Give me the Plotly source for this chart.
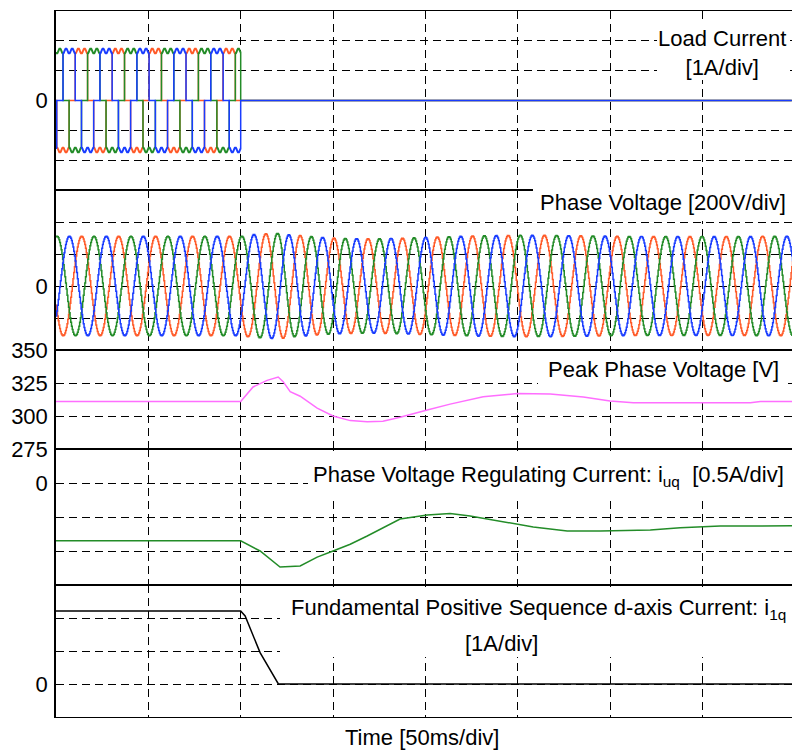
import numpy as np
import plotly.graph_objects as go

# ---------------- measured data (time in ms) ----------------
# Peak phase voltage [V]
peak_t = [0, 100, 106.7, 114.3, 120.3, 123, 126.8, 132.2, 141.4, 150, 159.3, 168.5,
          177, 186.3, 201, 213.4, 231.3, 249.7, 267.6, 285.5, 300, 312.6, 349, 376,
          381.4, 398.5]
peak_v = [311, 311, 322, 327, 329.5, 326, 318.5, 315, 306, 300, 296.5, 295.7,
          296, 299, 304.5, 309, 314.6, 317, 316.7, 314.4, 311.4, 310, 310, 310,
          311, 311]

# Phase voltage regulating current i_uq [A]
iuq_t = [0, 100, 110.5, 121.3, 132.2, 141.4, 150, 159.3, 168.5, 177, 186.3, 201,
         213.4, 224.2, 240.5, 258.4, 276.8, 294.7, 321.8, 338, 359.7, 398.5]
iuq_a = [-0.85, -0.85, -1.0, -1.235, -1.22, -1.09, -1.0, -0.9, -0.78, -0.66, -0.53,
         -0.47, -0.45, -0.485, -0.56, -0.647, -0.706, -0.706, -0.69, -0.657, -0.632,
         -0.63]

# Fundamental positive sequence d-axis current i_1q [A]
i1q_t = [0, 100, 102.4, 110.5, 120.4, 398.5]
i1q_a = [2.21, 2.21, 2.06, 0.95, 0.0, 0.0]

# Load current: six-pulse rectifier line current, cut off at 100 ms
load_amp = 1.66          # A
load_ripple = 0.05       # relative 300 Hz ripple
load_off_ms = 100
green_peak_ms = 0.4      # first positive peak of the green phase

# Supply frequency profile for the phase voltages
freq_t = [0, 100, 130, 200, 260, 398.5]
freq_hz = [50, 50, 55, 53, 50.8, 50.8]

T_END = 398.5

# ---------------- waveforms ----------------
# phase voltages, sampled (zero-order hold)
tv = np.arange(0, T_END + 0.4, 0.4)
fv = np.interp(tv, freq_t, freq_hz)
cyc = np.concatenate([[0.0], np.cumsum(0.5 * (fv[1:] + fv[:-1]) * np.diff(tv) / 1000.0)])
cyc -= np.interp(green_peak_ms, tv, cyc)
theta_v = 2 * np.pi * cyc
env = np.interp(tv, peak_t, peak_v)
v_green = env * np.cos(theta_v)
v_blue = env * np.cos(theta_v - 2 * np.pi / 3)
v_orange = env * np.cos(theta_v - 4 * np.pi / 3)

# load currents, 120-degree blocks
tc = np.arange(0, T_END, 0.1)
theta_c = 2 * np.pi * 50 * (tc - green_peak_ms) / 1000.0
idc = load_amp * (1 - load_ripple * np.cos(6 * theta_c))


def block(shift):
    ang = np.degrees(np.angle(np.exp(1j * (theta_c - shift))))
    s = np.where(np.abs(ang) < 60, 1.0, np.where(np.abs(ang) > 120, -1.0, 0.0))
    return np.where(tc < load_off_ms, idc * s, 0.0)


i_green = block(0)
i_blue = block(2 * np.pi / 3)
i_orange = block(4 * np.pi / 3)

# ---------------- styling ----------------
BLUE = "rgb(25,60,255)"
ORANGE = "rgb(255,90,40)"
GREEN = "rgb(35,140,40)"
PINK = "rgb(255,110,255)"
FONT = "Liberation Sans, Arial, sans-serif"
FS = 22
W, H = 792, 751

# panel pixel extents (top, bottom)
panels = [(11, 190), (190, 350), (350, 449), (449, 585), (585, 717)]
x_left = 56

fig = go.Figure()


def add(x, y, color, row, shape="linear", width=1.5):
    fig.add_trace(go.Scatter(
        x=x, y=y, mode="lines", line=dict(color=color, width=width, shape=shape),
        xaxis=f"x{row}" if row > 1 else "x", yaxis=f"y{row}" if row > 1 else "y",
        hoverinfo="skip", showlegend=False))


add(tc, i_orange, ORANGE, 1, "hv")
add(tc, i_green, GREEN, 1, "hv")
add(tc, i_blue, BLUE, 1, "hv")
add(tv, v_orange, ORANGE, 2, "hv")
add(tv, v_green, GREEN, 2, "hv")
add(tv, v_blue, BLUE, 2, "hv")
add(peak_t, peak_v, PINK, 3)
add(iuq_t, iuq_a, GREEN, 4)
add(i1q_t, i1q_a, "black", 5)

# labelled ticks and unlabelled grid divisions for each panel
y_specs = [
    dict(range=[-3, 3], labels=[0], grid=[-2, -1, 1, 2]),
    dict(range=[-400, 600], labels=[0], grid=[-200, 200, 400]),
    dict(range=[275, 350], labels=[275, 300, 325, 350], grid=[]),
    dict(range=[-1.5, 0.5], labels=[0], grid=[-1, -0.5]),
    dict(range=[-1, 3], labels=[0], grid=[1, 2]),
]

layout = dict(
    template="none",
    width=W, height=H, margin=dict(l=0, r=0, t=0, b=0, pad=0, autoexpand=False),
    paper_bgcolor="white", plot_bgcolor="white",
    font=dict(family=FONT, size=FS, color="black"),
    showlegend=False,
)

GRID_DASH = "8px,5px"
GRID_W = 1.4
grid = dict(showgrid=True, gridcolor="black", gridwidth=GRID_W, griddash=GRID_DASH)
for i, ((top, bot), ys) in enumerate(zip(panels, y_specs), start=1):
    sx = "" if i == 1 else str(i)
    layout[f"xaxis{sx}"] = dict(
        domain=[x_left / W, 1], range=[0, T_END], anchor=f"y{sx}",
        tick0=0, dtick=50, showticklabels=False, ticks="", automargin=False,
        showline=True, mirror=True, linecolor="black", linewidth=1,
        zeroline=False, **grid)
    layout[f"yaxis{sx}"] = dict(
        domain=[1 - bot / H, 1 - top / H], anchor=f"x{sx}",
        range=ys["range"], tickmode="array", tickvals=ys["labels"],
        ticktext=[str(v) for v in ys["labels"]],
        ticks="", ticklabelstandoff=2, automargin=False,
        tickfont=dict(size=FS, family=FONT, color="black"),
        minor=dict(tickmode="array", tickvals=ys["grid"], ticks="", showgrid=True,
                   gridcolor="black", gridwidth=GRID_W, griddash=GRID_DASH),
        showline=True, mirror=False, linecolor="black", linewidth=1.5,
        zeroline=False, **grid)

fig.update_layout(**layout)

# white label backgrounds (x0, x1, y0, y1 in pixels)
boxes = [(657, 790, 22, 80), (533, 792, 187, 221), (538, 788, 352, 389),
         (308, 792, 451, 497), (280, 792, 587, 657)]
for x0, x1, y0, y1 in boxes:
    fig.add_shape(type="rect", xref="paper", yref="paper",
                  x0=x0 / W, x1=x1 / W, y0=1 - y1 / H, y1=1 - y0 / H,
                  fillcolor="white", line=dict(width=0), layer="above")


def label(text, px, py, xanchor="left", align="left"):
    fig.add_annotation(text=text, xref="paper", yref="paper",
                       x=px / W, y=1 - py / H, xanchor=xanchor, yanchor="middle",
                       align=align, showarrow=False,
                       font=dict(family=FONT, size=FS, color="black"))


label("Load Current<br>[1A/div]", 722, 53, xanchor="center", align="center")
label("Phase Voltage [200V/div]", 538, 202)
label("Peak Phase Voltage [V]", 546, 369)
label("Phase Voltage Regulating Current: i<sub>uq</sub>\u00a0 [0.5A/div]", 311, 476)
label("Fundamental Positive Sequence d-axis Current: i<sub>1q</sub>", 289, 609)
label("[1A/div]", 501, 643, xanchor="center")
label("Time [50ms/div]", 422, 737, xanchor="center")

fig.write_html("out.html")
